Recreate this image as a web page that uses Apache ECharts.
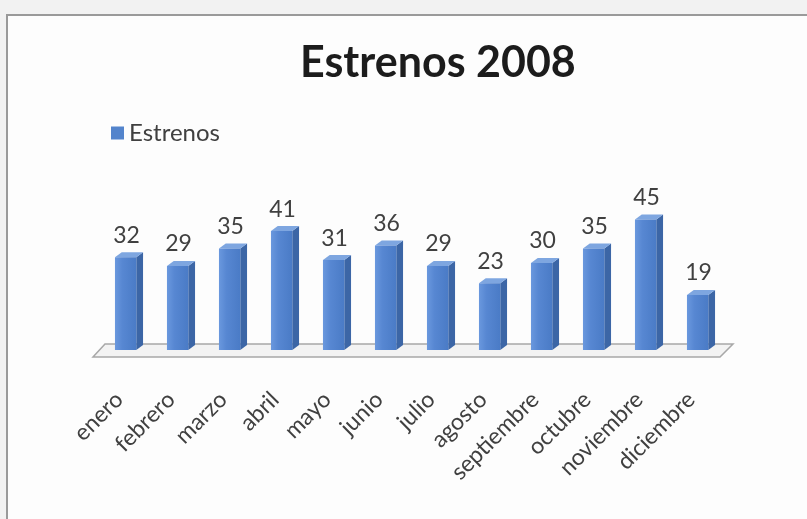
<!DOCTYPE html>
<html>
<head>
<meta charset="utf-8">
<script src="https://cdn.jsdelivr.net/npm/echarts@6/dist/echarts.min.js"></script>
<style>
  html, body { margin: 0; padding: 0; background: #f2f2f2; }
  #chart { width: 807px; height: 519px; }
</style>
</head>
<body>
<div id="chart"></div>
<script>
// Monthly film releases, 2008
const months = ['enero', 'febrero', 'marzo', 'abril', 'mayo', 'junio',
                'julio', 'agosto', 'septiembre', 'octubre', 'noviembre', 'diciembre'];
const estrenos = [32, 29, 35, 41, 31, 36, 29, 23, 30, 35, 45, 19];
const seriesName = 'Estrenos';
const chartTitle = 'Estrenos 2008';

const FONT = 'Lato, "Noto Sans", sans-serif';
const TEXT = '#404040';

const frontFill = new echarts.graphic.LinearGradient(0, 0, 1, 0, [
  { offset: 0, color: '#6a98de' },
  { offset: 0.35, color: '#5787d2' },
  { offset: 1, color: '#4a7bc6' }
]);

// Pseudo-3D column: front face, right side face, top face and value label
function renderColumn(params, api) {
  const idx = api.value(0);
  const v = api.value(1);
  const top = api.coord([idx, v]);
  const base = api.coord([idx, 0]);
  const band = api.size([1, 0])[0];
  const fw = band * 0.41;
  const dx = band * 0.13;
  const dy = 5;
  const x0 = top[0] - band * 0.27;
  const x1 = x0 + fw;
  return {
    type: 'group',
    children: [
      { type: 'polygon',
        shape: { points: [[x1, top[1]], [x1 + dx, top[1] - dy], [x1 + dx, base[1] - dy], [x1, base[1]]] },
        style: { fill: '#3c66a6' } },
      { type: 'polygon',
        shape: { points: [[x0, top[1]], [x0 + dx, top[1] - dy], [x1 + dx, top[1] - dy], [x1, top[1]]] },
        style: { fill: '#7ea6e0' } },
      { type: 'rect',
        shape: { x: x0, y: top[1], width: fw, height: base[1] - top[1] },
        style: { fill: frontFill } },
      { type: 'text',
        style: { text: String(v), x: x0 + fw / 2 + 1, y: top[1] - 22,
                 align: 'center', verticalAlign: 'middle',
                 font: '23px ' + FONT, fill: TEXT } }
    ]
  };
}

const chart = echarts.init(document.getElementById('chart'), null, { renderer: 'canvas' });

chart.setOption({
  backgroundColor: '#f2f2f2',
  animation: false,
  title: {
    text: chartTitle,
    left: 295,
    top: 37,
    textStyle: { fontFamily: FONT, fontSize: 43, fontWeight: 'bold', color: '#1c1c1c' }
  },
  legend: {
    left: 106,
    top: 116,
    icon: 'rect',
    itemWidth: 13,
    itemHeight: 13,
    itemGap: 6,
    data: [seriesName],
    textStyle: { fontFamily: FONT, fontSize: 24, color: TEXT }
  },
  grid: { left: 103, right: 80, top: 205, bottom: 169, containLabel: false },
  xAxis: {
    type: 'category',
    data: months,
    axisLine: { show: false },
    axisTick: { show: false },
    axisLabel: {
      rotate: 45,
      margin: 36,
      interval: 0,
      padding: [0, 14, 0, 0],
      fontFamily: FONT,
      fontSize: 23,
      color: TEXT
    }
  },
  yAxis: {
    type: 'value',
    min: 0,
    max: 50,
    show: false,
    splitLine: { show: false }
  },
  series: [{
    name: seriesName,
    type: 'custom',
    renderItem: renderColumn,
    itemStyle: { color: '#5384cc' },
    encode: { x: 0, y: 1 },
    data: estrenos.map((v, i) => [i, v]),
    z: 3
  }]
});

// Chart frame and the floor beneath the columns, placed from the axis scales
const first = chart.convertToPixel({ seriesIndex: 0 }, [0, 0]);
const last = chart.convertToPixel({ seriesIndex: 0 }, [months.length - 1, 0]);
chart.setOption({
  graphic: [
    { type: 'rect', z: -10, silent: true,
      shape: { x: 7, y: 15, width: 820, height: 540 },
      style: { fill: '#fdfdfd', stroke: '#9a9a9a', lineWidth: 2 } },
    { type: 'polygon', z: 0, silent: true,
      shape: { points: [
        [first[0] - 36, first[1] + 7],
        [last[0] + 19, last[1] + 7],
        [last[0] + 32, last[1] - 6],
        [first[0] - 24, first[1] - 6]
      ] },
      style: { fill: '#f3f3f3', stroke: '#a8a8a8', lineWidth: 1.5 } }
  ]
});
</script>
</body>
</html>
